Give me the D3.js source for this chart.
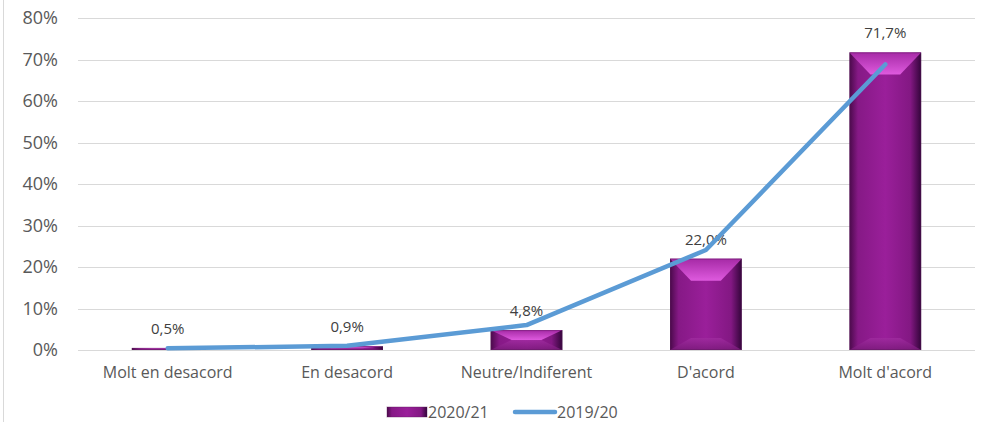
<!DOCTYPE html>
<html>
<head>
<meta charset="utf-8">
<script src="https://cdn.jsdelivr.net/npm/d3@7"></script>
<style>
  body { margin: 0; background: #fff; overflow: hidden; }
  svg { display: block; font-family: "Open Sans", sans-serif; }
</style>
</head>
<body>
<div id="chart"></div>
<script>
// chart data
const categories = ['Molt en desacord', 'En desacord', 'Neutre/Indiferent', "D'acord", "Molt d'acord"]
const values2021 = [0.5, 0.9, 4.8, 22.0, 71.7]
const values1920 = [0.4, 1.0, 6.0, 24.1, 68.8]
const yTicks = [0, 10, 20, 30, 40, 50, 60, 70, 80]
const seriesNames = ['2020/21', '2019/20']

const width  = 982,
      height = 422,
      margin = { top: 18, right: 7, bottom: 72, left: 78 }

const svg = d3.select('#chart').append('svg')
  .attr('width', width)
  .attr('height', height)

// gradients for the bevelled bars
const defs = svg.append('defs')
const sideGrad = defs.append('linearGradient').attr('id', 'barSide')
sideGrad.append('stop').attr('offset', '0%').attr('stop-color', '#4a0a4a')
sideGrad.append('stop').attr('offset', '12%').attr('stop-color', '#861986')
sideGrad.append('stop').attr('offset', '50%').attr('stop-color', '#9a1f9a')
sideGrad.append('stop').attr('offset', '85%').attr('stop-color', '#831883')
sideGrad.append('stop').attr('offset', '100%').attr('stop-color', '#33053a')

const topGrad = defs.append('linearGradient').attr('id', 'barTop')
  .attr('x1', 0).attr('y1', 0).attr('x2', 0).attr('y2', 1)
topGrad.append('stop').attr('offset', '0%').attr('stop-color', '#a62aa6')
topGrad.append('stop').attr('offset', '100%').attr('stop-color', '#de5ade')

const bottomGrad = defs.append('linearGradient').attr('id', 'barBottom')
  .attr('x1', 0).attr('y1', 0).attr('x2', 0).attr('y2', 1)
bottomGrad.append('stop').attr('offset', '0%').attr('stop-color', '#a02ca0')
bottomGrad.append('stop').attr('offset', '100%').attr('stop-color', '#7a1a7a')

// outer border on the left edge
svg.append('line')
  .attr('x1', 3.5).attr('x2', 3.5).attr('y1', 0).attr('y2', height)
  .attr('stroke', '#d9d9d9')

const x = d3.scaleBand()
  .domain(categories)
  .range([margin.left, width - margin.right])
  .paddingInner(0.6)
  .paddingOuter(0.3)

const y = d3.scaleLinear()
  .domain([0, 80])
  .range([height - margin.bottom, margin.top])

// grid
svg.append('g')
  .selectAll('line')
  .data(yTicks)
  .enter()
  .append('line')
    .attr('x1', margin.left)
    .attr('x2', width - margin.right)
    .attr('y1', d => Math.round(y(d)) + 0.5)
    .attr('y2', d => Math.round(y(d)) + 0.5)
    .attr('stroke', '#d9d9d9')
    .attr('stroke-width', 1.2)

// y axis labels
const yAxis = svg.append('g')
  .attr('transform', `translate(${margin.left - 20},0)`)
  .call(d3.axisLeft(y).tickValues(yTicks).tickFormat(d => d + '%').tickSize(0).tickPadding(0))
yAxis.select('.domain').remove()
yAxis.selectAll('text')
  .attr('fill', '#595959')
  .style('font-size', '18px')
  .style('font-family', '"Open Sans", sans-serif')

// x axis labels
const xAxis = svg.append('g')
  .attr('transform', `translate(0,${height - margin.bottom})`)
  .call(d3.axisBottom(x).tickSize(0).tickPadding(17))
xAxis.select('.domain').remove()
xAxis.selectAll('text')
  .attr('fill', '#595959')
  .style('font-size', '16px')
  .style('font-family', '"Open Sans", sans-serif')

// bars
const bars = svg.append('g')
  .selectAll('g')
  .data(values2021.map((v, i) => ({ cat: categories[i], v })))
  .enter()
  .append('g')

bars.each(function (d) {
  const g = d3.select(this)
  const bx = x(d.cat), bw = x.bandwidth()
  const by = y(d.v), bh = y(0) - y(d.v)
  const ins = 21
  const tv = Math.min(22, bh / 2)
  const bv = Math.min(12, bh / 2)
  g.append('rect')
    .attr('x', bx).attr('y', by).attr('width', bw).attr('height', bh)
    .attr('fill', 'url(#barSide)')
  g.append('path')
    .attr('d', `M${bx},${by}L${bx + bw},${by}L${bx + bw - ins},${by + tv}L${bx + ins},${by + tv}Z`)
    .attr('fill', 'url(#barTop)')
  g.append('path')
    .attr('d', `M${bx},${by + bh}L${bx + bw},${by + bh}L${bx + bw - ins},${by + bh - bv}L${bx + ins},${by + bh - bv}Z`)
    .attr('fill', 'url(#barBottom)')
    .attr('opacity', 0.8)
  g.append('rect')
    .attr('x', bx + 0.5).attr('y', by + 0.5).attr('width', bw - 1).attr('height', Math.max(bh - 1, 0))
    .attr('fill', 'none')
    .attr('stroke', '#5a1a5a')
    .attr('stroke-opacity', 0.4)
})

// bar labels
svg.append('g')
  .selectAll('text')
  .data(values2021.map((v, i) => ({ cat: categories[i], v })))
  .enter()
  .append('text')
    .attr('x', d => x(d.cat) + x.bandwidth() / 2)
    .attr('y', d => y(d.v) - 14)
    .attr('text-anchor', 'middle')
    .attr('fill', '#404040')
    .style('font-size', '15px')
    .text(d => d.v.toFixed(1).replace('.', ',') + '%')

// 2019/20 line
const line = d3.line()
  .x((d, i) => x(categories[i]) + x.bandwidth() / 2)
  .y(d => y(d))

svg.append('path')
  .datum(values1920)
  .attr('d', line)
  .attr('fill', 'none')
  .attr('stroke', '#5b9bd5')
  .attr('stroke-width', 4.5)
  .attr('stroke-linecap', 'round')
  .attr('stroke-linejoin', 'round')

// legend
const legend = svg.append('g').attr('transform', 'translate(387,412)')
legend.append('rect')
  .attr('x', 0).attr('y', -5).attr('width', 40).attr('height', 10)
  .attr('fill', 'url(#barSide)')
  .attr('stroke', '#5a1a5a').attr('stroke-opacity', 0.4)
legend.append('text')
  .attr('x', 41).attr('y', 6)
  .attr('fill', '#595959')
  .style('font-size', '16px')
  .text(seriesNames[0])
legend.append('line')
  .attr('x1', 128).attr('x2', 168).attr('y1', 0).attr('y2', 0)
  .attr('stroke', '#5b9bd5').attr('stroke-width', 4.5).attr('stroke-linecap', 'round')
legend.append('text')
  .attr('x', 170).attr('y', 6)
  .attr('fill', '#595959')
  .style('font-size', '16px')
  .text(seriesNames[1])
</script>
</body>
</html>
